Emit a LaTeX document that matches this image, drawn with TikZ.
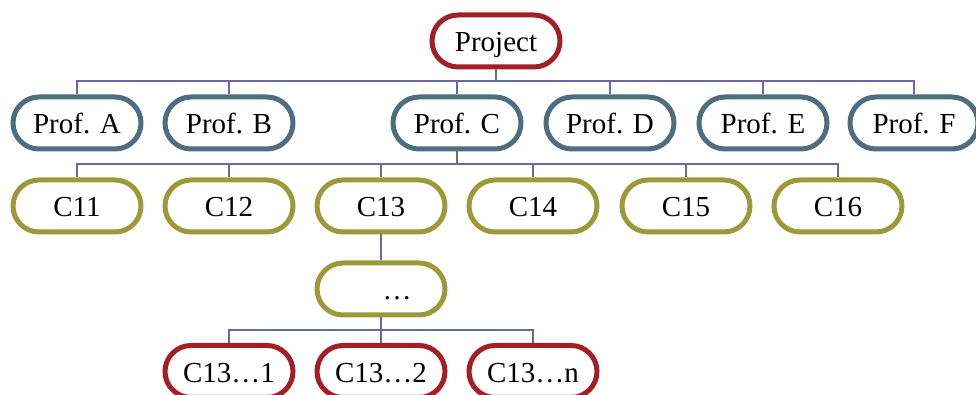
\documentclass[tikz,border=0pt]{standalone}
\usepackage{fontspec}
\setmainfont{Liberation Serif}
\usetikzlibrary{shapes.misc}

\definecolor{projred}{RGB}{163,30,37}
\definecolor{profblue}{RGB}{78,110,128}
\definecolor{subolive}{RGB}{155,153,56}
\definecolor{linkline}{RGB}{104,104,162}

\begin{document}
\begin{tikzpicture}[x=0.5pt, y=-0.5pt,
        every node/.style={draw, fill=white, line width=2.5pt,
                           rounded rectangle, minimum width=64pt,
                           minimum height=26pt, inner sep=0pt,
                           text height=13pt, text depth=2pt,
                           font=\fontsize{14.5}{17}\selectfont},
        link/.style={draw=linkline, line width=0.8pt}]
    \clip (0,0) rectangle (976,395);

    % top level
    \node[draw=projred] (P) at (496,41) {Project};

    % professors
    \foreach \x/\n [count=\i] in {77/A,229/B,457/C,610/D,763/E,914/F} {
            \node[draw=profblue] (F\i) at (\x,123) {Prof. \n};
        }

    % sub projects of Prof. C
    \foreach \x [count=\i from 11] in {77,229,381,533,686,838} {
            \node[draw=subolive] (C\i) at (\x,206) {C\i};
        }

    \node[draw=subolive] (D) at (381,289) {\hspace{16pt}…};

    \foreach \x/\n [count=\i] in {229/1,381/2,533/n} {
            \node[draw=projred] (L\i) at (\x,371.5) {C13…\n\hspace{10pt}};
        }

    % connectors
    \coordinate (busP) at (496,81);
    \coordinate (busC) at (457,164);
    \coordinate (busD) at (381,330);

    \draw[link] (P.south) -- (busP);
    \foreach \i in {1,...,6} {
            \draw[link] (busP) -| (F\i.north);
        }

    \draw[link] (F3.south) -- (busC);
    \foreach \i in {11,...,16} {
            \draw[link] (busC) -| (C\i.north);
        }

    \draw[link] (C13.south) -- (D.north);
    \draw[link] (D.south) -- (busD);
    \foreach \i in {1,...,3} {
            \draw[link] (busD) -| (L\i.north);
        }
\end{tikzpicture}
\end{document}
